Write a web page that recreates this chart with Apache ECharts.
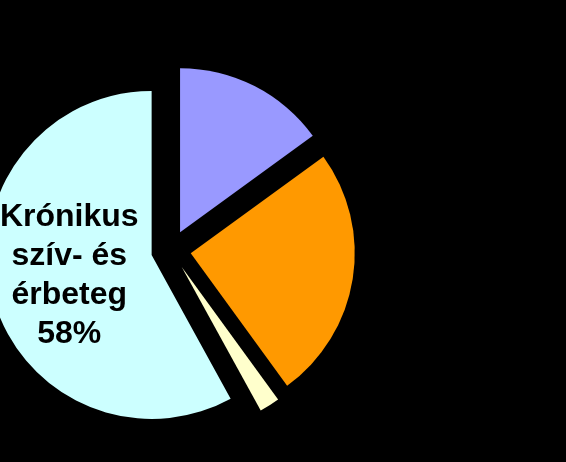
<!DOCTYPE html>
<html>
<head>
<meta charset="utf-8">
<script src="https://cdn.jsdelivr.net/npm/echarts@6/dist/echarts.min.js"></script>
<style>
  html, body { margin: 0; padding: 0; background: #000; }
  #app { width: 566px; height: 462px; }
</style>
</head>
<body>
<div id="app"></div>
<script>
const names = ["Egyéb 1", "Egyéb 2", "Egyéb 3", "Krónikus\nszív- és\nérbeteg"];
const values = [15, 25, 2, 58];
const colors = ["#9999FF", "#FF9900", "#FFFFCC", "#CCFFFF"];
const labelled = [false, false, false, true];

const dom = document.getElementById("app");
const myChart = echarts.init(dom);

myChart.setOption({
  backgroundColor: "#000",
  animation: false,
  series: [
    {
      type: "pie",
      center: [171, 250],
      radius: [0, 164],
      startAngle: 90,
      clockwise: true,
      selectedMode: "multiple",
      selectedOffset: 20,
      label: {
        position: "inside",
        fontFamily: "Liberation Sans, Arial",
        fontWeight: "bold",
        fontSize: 32,
        lineHeight: 39,
        color: "#000",
        formatter: p => p.name + "\n" + Math.round(p.percent) + "%"
      },
      labelLine: { show: false },
      emphasis: { disabled: true },
      data: values.map((v, i) => ({
        name: names[i],
        value: v,
        selected: true,
        itemStyle: { color: colors[i] },
        label: { show: labelled[i] }
      }))
    }
  ]
});
</script>
</body>
</html>
